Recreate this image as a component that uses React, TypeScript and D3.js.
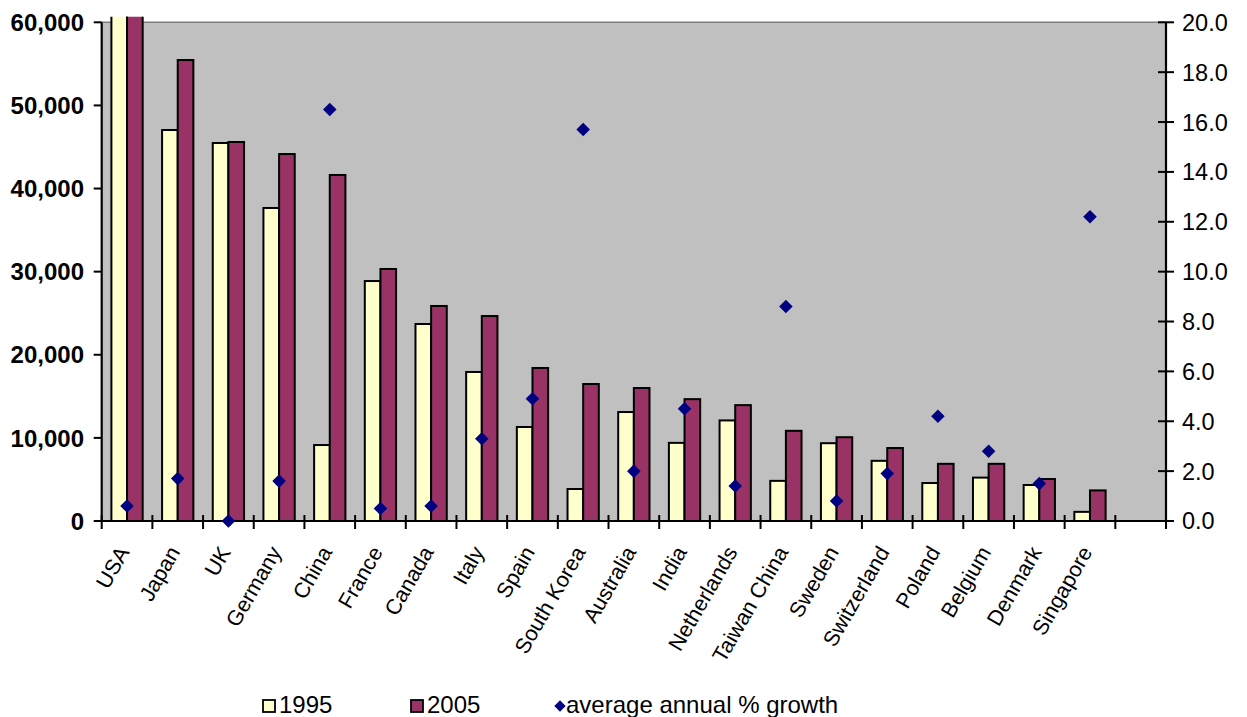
import React from "react";
import * as d3 from "d3";

const categories = ["USA","Japan","UK","Germany","China","France","Canada","Italy","Spain","South Korea","Australia","India","Netherlands","Taiwan China","Sweden","Switzerland","Poland","Belgium","Denmark","Singapore"];
const values1995 = [64000,47040,45480,37660,9140,28870,23700,17930,11310,3850,13110,9400,12100,4830,9360,7240,4570,5220,4330,1100];
const values2005 = [68000,55460,45600,44150,41630,30320,25870,24660,18410,16480,16000,14660,13940,10850,10080,8780,6880,6880,5050,3680];
const growth = [0.6,1.7,0.0,1.6,16.5,0.5,0.6,3.3,4.9,15.7,2.0,4.5,1.4,8.6,0.8,1.9,4.2,2.8,1.5,12.2];
const leftTicks = [0,10000,20000,30000,40000,50000,60000];
const rightTicks = [0,2,4,6,8,10,12,14,16,18,20];
const seriesNames = ["1995","2005"];
const legendLabels = ["1995","2005","average annual % growth"];

const W = 1247, H = 717;
const L = 101.7, R = 1166, T = 22.3, B = 521;
const FONT = "'Liberation Sans', Arial, sans-serif";
const C1995 = "#FFFFCC", C2005 = "#993366", CDIAM = "#000080";

export default function App() {
  const slots = d3.range(21).map(String);
  const x = d3.scaleBand<string>().domain(slots).range([L, R]).paddingInner(0).paddingOuter(0);
  const sw = x.bandwidth();
  const xi = d3.scaleBand<string>().domain(seriesNames).range([0, sw]).paddingInner(0).paddingOuter(0.62);
  const yL = d3.scaleLinear().domain([0, 60000]).range([B, T]);
  const yR = d3.scaleLinear().domain([0, 20]).range([B, T]);
  const fmtL = d3.format(",");
  const fmtR = d3.format(".1f");
  const diamond = d3.symbol().type(d3.symbolSquare).size(92)();
  const bw = xi.bandwidth();

  return (
    <svg width={W} height={H} style={{ position: "absolute", left: 0, top: 0, background: "#fff" }} fontFamily={FONT}>
      <defs>
        <clipPath id="plotclip">
          <rect x={L} y={T - 5.5} width={R - L} height={B - T + 5.5} />
        </clipPath>
      </defs>
      <rect x={L} y={T} width={R - L} height={B - T} fill="#C0C0C0" />
      <line x1={L} x2={R} y1={T} y2={T} stroke="#808080" strokeWidth={1.5} />
      <g clipPath="url(#plotclip)">
        {categories.map((c, i) => {
          const x0 = x(String(i))!;
          return (
            <g key={c}>
              <rect x={x0 + xi("1995")!} y={yL(values1995[i])} width={bw} height={B - yL(values1995[i])} fill={C1995} stroke="#000" strokeWidth={2} />
              <rect x={x0 + xi("2005")!} y={yL(values2005[i])} width={bw} height={B - yL(values2005[i])} fill={C2005} stroke="#000" strokeWidth={2} />
            </g>
          );
        })}
      </g>
      {/* axes */}
      <line x1={L} x2={L} y1={T} y2={B} stroke="#000" strokeWidth={2.2} />
      <line x1={R} x2={R} y1={T} y2={B} stroke="#000" strokeWidth={2.2} />
      <line x1={L - 7} x2={R + 8} y1={B} y2={B} stroke="#000" strokeWidth={2.2} />
      {leftTicks.map((t) => (
        <g key={"l" + t}>
          <line x1={L - 8} x2={L} y1={yL(t)} y2={yL(t)} stroke="#000" strokeWidth={2} />
          <text x={84} y={yL(t)} dy="0.36em" textAnchor="end" fontSize={24} fontWeight="bold">{fmtL(t)}</text>
        </g>
      ))}
      {rightTicks.map((t) => (
        <g key={"r" + t}>
          <line x1={R - 8} x2={R + 8} y1={yR(t)} y2={yR(t)} stroke="#000" strokeWidth={2} />
          <text x={1182} y={yR(t)} dy="0.36em" textAnchor="start" fontSize={23.5}>{fmtR(t)}</text>
        </g>
      ))}
      {slots.map((s) => (
        <line key={"xt" + s} x1={x(s)!} x2={x(s)!} y1={B - 6} y2={B + 8} stroke="#000" strokeWidth={2} />
      ))}
      <line x1={R} x2={R} y1={B - 6} y2={B + 8} stroke="#000" strokeWidth={2} />
      {categories.map((c, i) => {
        const cx = x(String(i))! + sw / 2;
        return (
          <text key={"lab" + c} transform={`translate(${cx + 3},552) rotate(-60)`} textAnchor="end" fontSize={21.5}>{c}</text>
        );
      })}
      {growth.map((g, i) => {
        const cx = x(String(i))! + sw / 2;
        return <path key={"d" + i} d={diamond} transform={`translate(${cx},${yR(g)}) rotate(45)`} fill={CDIAM} />;
      })}
      {/* legend */}
      <rect x={263} y={700} width={12} height={12} fill={C1995} stroke="#000" strokeWidth={1.8} />
      <text x={279} y={713} fontSize={24}>{legendLabels[0]}</text>
      <rect x={411} y={700} width={12} height={12} fill={C2005} stroke="#000" strokeWidth={1.8} />
      <text x={427} y={713} fontSize={24}>{legendLabels[1]}</text>
      <path d={d3.symbol().type(d3.symbolSquare).size(64)()!} transform="translate(560,706) rotate(45)" fill={CDIAM} />
      <text x={566} y={713} fontSize={24}>{legendLabels[2]}</text>
    </svg>
  );
}
